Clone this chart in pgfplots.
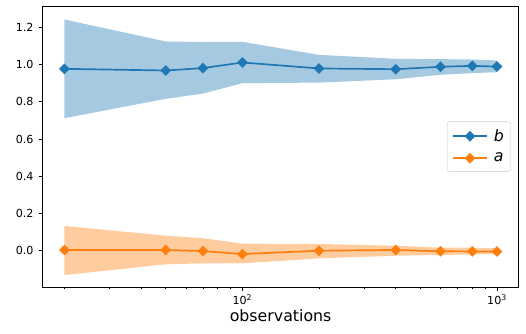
\documentclass[border=0pt]{standalone}
\usepackage{fontspec}
\setmainfont{DejaVu Sans}
\usepackage{pgfplots}
\pgfplotsset{compat=1.18}
\usepgfplotslibrary{fillbetween}
\definecolor{C0}{HTML}{1F77B4}
\definecolor{C1}{HTML}{FF7F0E}
\definecolor{C0f}{RGB}{165,201,225}
\definecolor{C1f}{RGB}{255,204,159}
\begin{document}
\begin{tikzpicture}
\begin{axis}[
  at={(0,0)}, anchor=south west,
  scale only axis, width=476.2pt, height=281pt,
  xmode=log, xmin=16.4, xmax=1217, ymin=-0.195, ymax=1.3145,
  xtick={100,1000}, xticklabels={10\textsuperscript{2},10\textsuperscript{3}},
  minor xtick={20,30,40,50,60,70,80,90,200,300,400,500,600,700,800,900},
  ytick={0,0.2,0.4,0.6,0.8,1.0,1.2},
  yticklabel style={xshift=-1.5pt, /pgf/number format/fixed, /pgf/number format/fixed zerofill, /pgf/number format/precision=1},
  /pgf/number format/assume math mode=true,
  tick align=outside, tick pos=left,
  major tick length=4pt, minor tick length=2.3pt,
  every major tick/.style={black, line width=0.9pt},
  every minor tick/.style={black, line width=0.7pt},
  axis line style={line width=0.9pt},
  ticklabel style={font=\fontsize{11.1}{13}\selectfont},
  xlabel={observations},
  xlabel style={font=\fontsize{15.8}{18}\selectfont, yshift=2pt},
  legend style={at={(0.984,0.5)}, anchor=east, draw=black!20, rounded corners=2.5pt,
    font=\fontsize{15.8}{18}\selectfont, inner xsep=5pt, inner ysep=6pt, row sep=6pt, column sep=4pt},
  legend cell align=left,
  legend image code/.code={\draw[mark repeat=2,mark phase=2,#1] plot coordinates {(0pt,0pt) (17pt,0pt) (34pt,0pt)};},
]
\addplot[name path=bup, draw=none, forget plot] coordinates {(20,1.242) (50,1.124) (70,1.121) (100,1.122) (200,1.052) (400,1.031) (600,1.029) (800,1.027) (1000,1.022)};
\addplot[name path=blo, draw=none, forget plot] coordinates {(20,0.712) (50,0.816) (70,0.844) (100,0.900) (200,0.903) (400,0.921) (600,0.945) (800,0.954) (1000,0.959)};
\addplot[C0f, forget plot] fill between[of=bup and blo];
\addplot[name path=aup, draw=none, forget plot] coordinates {(20,0.133) (50,0.081) (70,0.067) (100,0.038) (200,0.036) (400,0.027) (600,0.016) (800,0.016) (1000,0.013)};
\addplot[name path=alo, draw=none, forget plot] coordinates {(20,-0.131) (50,-0.073) (70,-0.068) (100,-0.068) (200,-0.041) (400,-0.027) (600,-0.023) (800,-0.020) (1000,-0.018)};
\addplot[C1f, forget plot] fill between[of=aup and alo];
\addplot[C0, line width=1.7pt, mark=square*, mark size=3.3pt, mark options={rotate=45, solid, line width=1pt}] coordinates {(20,0.977) (50,0.968) (70,0.981) (100,1.011) (200,0.979) (400,0.975) (600,0.988) (800,0.993) (1000,0.989)};
\addlegendentry{\textit{b}}
\addplot[C1, line width=1.7pt, mark=square*, mark size=3.3pt, mark options={rotate=45, solid, line width=1pt}] coordinates {(20,0.004) (50,0.004) (70,-0.002) (100,-0.018) (200,0.000) (400,0.004) (600,-0.003) (800,-0.004) (1000,-0.004)};
\addlegendentry{\textit{a}}
\end{axis}
\pgfresetboundingbox
\path[use as bounding box] (-42.5pt,-46pt) rectangle (483.5pt,287pt);
\end{tikzpicture}
\end{document}
